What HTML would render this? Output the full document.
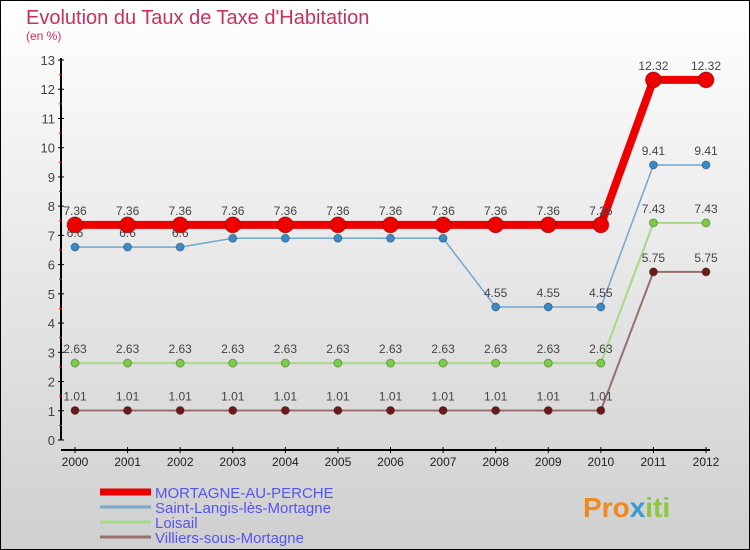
<!DOCTYPE html>
<html><head><meta charset="utf-8"><style>
body{margin:0}
#wrap{position:relative;width:750px;height:550px;overflow:hidden;font-family:"Liberation Sans",sans-serif}
</style></head><body>
<div id="wrap">
<svg id="chart" width="750" height="550" xmlns="http://www.w3.org/2000/svg">
<defs><linearGradient id="bg" x1="0" y1="0" x2="0" y2="1"><stop offset="0" stop-color="#ffffff"/><stop offset="1" stop-color="#cfcfcf"/></linearGradient></defs>
<rect x="0.5" y="0.5" width="749" height="549" fill="url(#bg)" stroke="#000"/>
<text x="26" y="24" font-size="20" fill="#c8305f">Evolution du Taux de Taxe d'Habitation</text>
<text x="26" y="40" font-size="12" fill="#c8305f">(en %)</text>
<g id="axes"></g><g id="series"></g><g id="legend"></g>
<text x="583" y="517" font-size="28" font-weight="bold" fill="#f08a20">Pro<tspan fill="#3a9ad9">x</tspan><tspan fill="#8cc83c">iti</tspan></text>
</svg>
</div>
<script>
const years=["2000","2001","2002","2003","2004","2005","2006","2007","2008","2009","2010","2011","2012"];
const yTicks=[0,1,2,3,4,5,6,7,8,9,10,11,12,13];
const mortagne=[7.36,7.36,7.36,7.36,7.36,7.36,7.36,7.36,7.36,7.36,7.36,12.32,12.32];
const saintLangis=[6.6,6.6,6.6,6.9,6.9,6.9,6.9,6.9,4.55,4.55,4.55,9.41,9.41];
const loisail=[2.63,2.63,2.63,2.63,2.63,2.63,2.63,2.63,2.63,2.63,2.63,7.43,7.43];
const villiers=[1.01,1.01,1.01,1.01,1.01,1.01,1.01,1.01,1.01,1.01,1.01,5.75,5.75];
const seriesNames=["MORTAGNE-AU-PERCHE","Saint-Langis-lès-Mortagne","Loisail","Villiers-sous-Mortagne"];
const NS="http://www.w3.org/2000/svg";
const xS=i=>75+i*(706-75)/(years.length-1);
const yS=v=>440-v*(380/13);
function mk(t,a,p){const e=document.createElementNS(NS,t);for(const k in a)e.setAttribute(k,a[k]);p.appendChild(e);return e;}
const ax=document.getElementById('axes');
let e=mk('line',{x1:61,y1:58,x2:61,y2:440,stroke:'#000','stroke-width':2},ax);


e=mk('line',{x1:61,y1:450,x2:710,y2:450,stroke:'#000','stroke-width':2},ax);


yTicks.forEach(v=>{
 mk('line',{x1:58,y1:yS(v),x2:64,y2:yS(v),stroke:'#000'},ax);
 if(v<13)mk('line',{x1:59,y1:yS(v+0.5),x2:62,y2:yS(v+0.5),stroke:'#f00'},ax);
 const t=mk('text',{x:55,y:yS(v)+5,'font-size':13,'text-anchor':'end',fill:'#444'},ax);t.textContent=v;
 
 
});
years.forEach((y,i)=>{
 mk('line',{x1:xS(i),y1:447,x2:xS(i),y2:453,stroke:'#000'},ax);
 const t=mk('text',{x:xS(i),y:466,'font-size':12,'text-anchor':'middle',fill:'#222'},ax);t.textContent=y;
 
 
});
const sg=document.getElementById('series');
function draw(data,color,dot,lw,r,name){
 const g=mk('g',{},sg);
 
 
 mk('polyline',{points:data.map((v,i)=>xS(i)+','+yS(v)).join(' '),fill:'none',stroke:color,'stroke-width':lw},g);
 data.forEach((v,i)=>{
  const c=mk('circle',{cx:xS(i),cy:yS(v),r:r,fill:dot,stroke:'rgba(0,0,0,0.3)'},g);
  
  
  const t=mk('text',{x:xS(i),y:yS(v)-10,'font-size':12,'text-anchor':'middle',fill:'#444'},g);
  t.textContent=String(v);
  
  
 });
}
draw(villiers,'#9a6e6e','#6b1a1a',2,4,'series-villiers');
draw(loisail,'#a8d888','#7ccc44',2,4,'series-loisail');
draw(saintLangis,'#70a8d0','#3a8ac8',1.5,4,'series-saint-langis');
draw(mortagne,'#ee0000','#ee0000',8,8,'series-mortagne');
const lg=document.getElementById('legend');
const lc=['#ee0000','#7aa8c8','#a8d888','#9a6e6e'],lw=[7,3,3,3];
seriesNames.forEach((n,i)=>{
 const y=492+i*15;
 const g=mk('g',{},lg);
 
 
 mk('line',{x1:100,y1:y,x2:151,y2:y,stroke:lc[i],'stroke-width':lw[i]},g);
 const t=mk('text',{x:155,y:y+6,'font-size':15,fill:'#5555ee'},g);t.textContent=n;
});
</script>
</body></html>
